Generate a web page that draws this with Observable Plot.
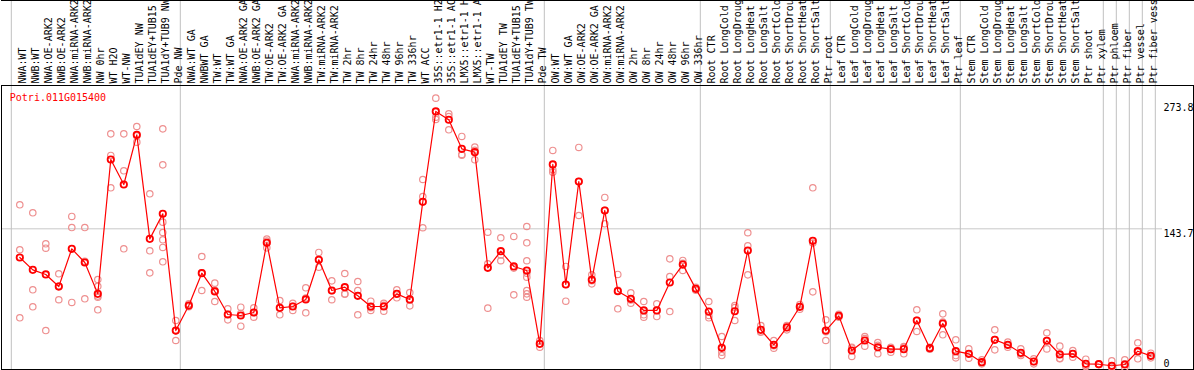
<!DOCTYPE html>
<html><head><meta charset="utf-8">
<script src="https://cdn.jsdelivr.net/npm/d3@7"></script>
<script src="https://cdn.jsdelivr.net/npm/@observablehq/plot@0.6"></script>
<style>body{margin:0;background:#fff} #chart svg{display:block}</style>
</head><body><div id="chart"></div>
<script>
const title = "Potri.011G015400";
const categories = [
  "NWA:WT","NWB:WT","NWA:OE-ARK2","NWB:OE-ARK2","NWA:miRNA-ARK2","NWB:miRNA-ARK2","NW 0hr","WT H2O","WT-NW","TUA1dEY NW","TUA1dEY+TUB15","TUA1dY+TUB9 NW","Pde NW",
  "NWA:WT GA","NWBWT GA","TW:WT","TW:WT GA","NWA:OE-ARK2 GA","NWB:OE-ARK2 GA","TW:OE-ARK2","TW:OE-ARK2 GA","NWA:miRNA-ARK2","NWB:miRNA-ARK2","TW:miRNA-ARK2","TW:miRNA-ARK2","TW 2hr","TW 8hr","TW 24hr","TW 48hr","TW 96hr","TW 336hr","WT ACC","35S::etr1-1 H2","35S::etr1-1 AC","LMX5::etr1-1 H","LMX5::etr1-1 A","WT-TW","TUA1dEY TW","TUA1dEY+TUB15","TUA1dY+TUB9 TW","Pde TW",
  "OW:WT","OW:WT GA","OW:OE-ARK2","OW:OE-ARK2 GA","OW:miRNA-ARK2","OW:miRNA-ARK2","OW 2hr","OW 8hr","OW 24hr","OW 48hr","OW 96hr","OW 336hr",
  "Root CTR","Root LongCold","Root LongDroug","Root LongHeat","Root LongSalt","Root ShortCold","Root ShortDrou","Root ShortHeat","Root ShortSalt","Ptr root",
  "Leaf CTR","Leaf LongCold","Leaf LongDroug","Leaf LongHeat","Leaf LongSalt","Leaf ShortCold","Leaf ShortDrou","Leaf ShortHeat","Leaf ShortSalt","Ptr leaf",
  "Stem CTR","Stem LongCold","Stem LongDroug","Stem LongHeat","Stem LongSalt","Stem ShortCold","Stem ShortDrou","Stem ShortHeat","Stem ShortSalt","Ptr shoot","Ptr xylem",
  "Ptr phloem","Ptr fiber","Ptr vessel","Ptr fiber vess"
];
const means = [
  114,101.2,96.4,83.9,123,108.8,76.3,215.5,189.6,241.1,133.3,159.3,38.3,
  64.2,97.7,78.8,54.9,53.9,57,129.2,61.8,63.2,70.5,111.6,79.8,83.2,74.3,63.2,63.2,76.3,70.5,171.7,265.3,256.7,226.6,223.1,103.3,120.5,104.7,100.5,24.5,
  210.4,86,192.7,90.8,162.7,79.1,71.2,59.1,59.1,88.1,106.7,81.5,
  58,20.4,58.3,121.2,39,23.5,41.5,62.9,131.3,38.3,
  53.5,17.6,28,21,19,19,48.7,20,45.6,16.9,
  14.2,5.5,28.7,23.5,15.2,6.2,27.7,13.5,14.2,3.8,3.4,
  1.8,3.1,16.9,12.1
];
const replicates = [
  [168.6,122,51.5],[160.3,80.5,62.9],[128.2,123.6,38.3],[97.1,84.4,70.2],[156.5,145,67.4],[145,110,71.2],[91.2,84.2,74,72.8,59.8],[242.1,219.7,186.2],[242.1,203.8,123],[249.7,240,233.5],[180,120.9,98.1],[247.3,210,150.6,139.9,132.3,124.4,109.5],[48.7,38,28],
  [66,64,63],[115,98,79.8],[87.4,80,68.4],[60.8,55,49.4],[62.5,56,42.8],[61.8,57,52.1],[133,131,124],[69.4,61.5,54.6],[66.6,63.5,59.1],[82.6,72,56.7],[119.2,111.6,103.9],[89.8,79.5,70.2],[97.4,76.3,76],[89.1,79.8,54.6],[68.7,62,59.1],[66.6,64.5,58.3],[80.5,76,72.2],[77.7,70,63.9],[194.8,177.2,144.8],[279.1,259.4,257],[262.9,260.1,246.3],[239.4,220.7,220],[228.3,225,215.2],[140.2,107.5,61.5],[134.4,116.5,110.6],[135.8,103,75.3],[146.1,129.2,110.6,97.7,93.6,79.8,76.3,72.8],[28,24.5,21],
  [224.9,204.9,202.4],[104.7,86,68.7],[228,192.7,157.5],[96,90,86.7],[176.2,163,148.9],[96.4,80,60.8],[77.4,70,66.6],[68.4,54.6,52.1],[66,59,52.8],[112.6,94.3,58],[110.9,108,100.5],[83,81.5,80],
  [68.4,53.9,51.5],[32.1,15.9,12.4],[64.2,62,48.7],[139.6,126.1,96],[43.5,37,36.6],[28,22.5,20],[43.5,41.5,39],[65.3,63,60.4],[186.2,129,78.4],[49.4,37,28],
  [55,53.5,52],[21,20,11.4],[32.1,30,22.1],[25.9,23,14.2],[21,19,15.9],[21.7,21,14.2],[59.8,49,37.3],[21,20,19],[55.6,47,33.9],[28.7,12.4,10],
  [19.3,14,9.7],[8,5,3.8],[39,29,18.3],[26.3,23,21],[19.3,14,12.4],[9,6,3.8],[36,28,19.3],[22.1,9.5,9],[17.6,14.2,10.7],[8.6,2,1],[3.8,3.4,3],
  [6.9,0.3,0.5],[8,3.8,0],[25.6,16,9],[14.8,12,10]
];
const groupSizes = [13,28,12,10,10,11,1,1,1,1];
const yTicks = [0, 143.7, 273.8];
const gridValues = [143.7];

const meanData = categories.map((c, i) => ({i, c, v: means[i]}));
const repData = replicates.flatMap((r, i) => r.map(v => ({i, v})));
const bounds = [0];
groupSizes.forEach(g => bounds.push(bounds[bounds.length - 1] + g));
const OFF = 0.654;
const font = "'DejaVu Sans Mono', monospace";

const chart = Plot.plot({
  width: 1194, height: 370,
  marginTop: 85, marginBottom: 1, marginLeft: 1, marginRight: 1,
  style: {fontFamily: font, fontSize: "10px", background: "#fff", color: "#000"},
  x: {domain: [-0.7538, 90.938], axis: null},
  y: {domain: [-2.07, 292.2], axis: null},
  marks: [
    Plot.ruleY(gridValues, {stroke: "#c8c8c8", insetRight: 31}),
    Plot.ruleX(bounds, {stroke: "#c0c0c0", insetTop: -85}),
    Plot.frame({stroke: "#000"}),
    Plot.frame({anchor: "top", dy: -85, stroke: "#000"}),
    Plot.text(categories, {x: (d, i) => i + 0.6, frameAnchor: "top", dy: -2, rotate: -90, textAnchor: "start", text: d => d, fill: "#000"}),
    Plot.text(yTicks.filter(v => v > 0), {y: d => d, frameAnchor: "right", dx: -30, textAnchor: "start", lineAnchor: "top", dy: 1, text: d => String(d), fill: "#000"}),
    Plot.text(yTicks.filter(v => v === 0), {y: d => d, frameAnchor: "right", dx: -30, textAnchor: "start", lineAnchor: "bottom", dy: -1, text: d => String(d), fill: "#000"}),
    Plot.text([title], {frameAnchor: "top-left", dx: 8.3, dy: 15.7, textAnchor: "start", lineAnchor: "bottom", fill: "red", text: d => d}),
    Plot.dot(repData, {x: d => d.i + OFF, y: "v", r: 3.2, stroke: "#ee9090", strokeWidth: 1.2, fill: "none"}),
    Plot.line(meanData, {x: d => d.i + OFF, y: "v", stroke: "red", strokeWidth: 1.2}),
    Plot.dot(meanData, {x: d => d.i + OFF, y: "v", r: 3.2, stroke: "red", strokeWidth: 1.8, fill: "none"})
  ]
});
document.getElementById("chart").append(chart);
</script>
</body></html>
